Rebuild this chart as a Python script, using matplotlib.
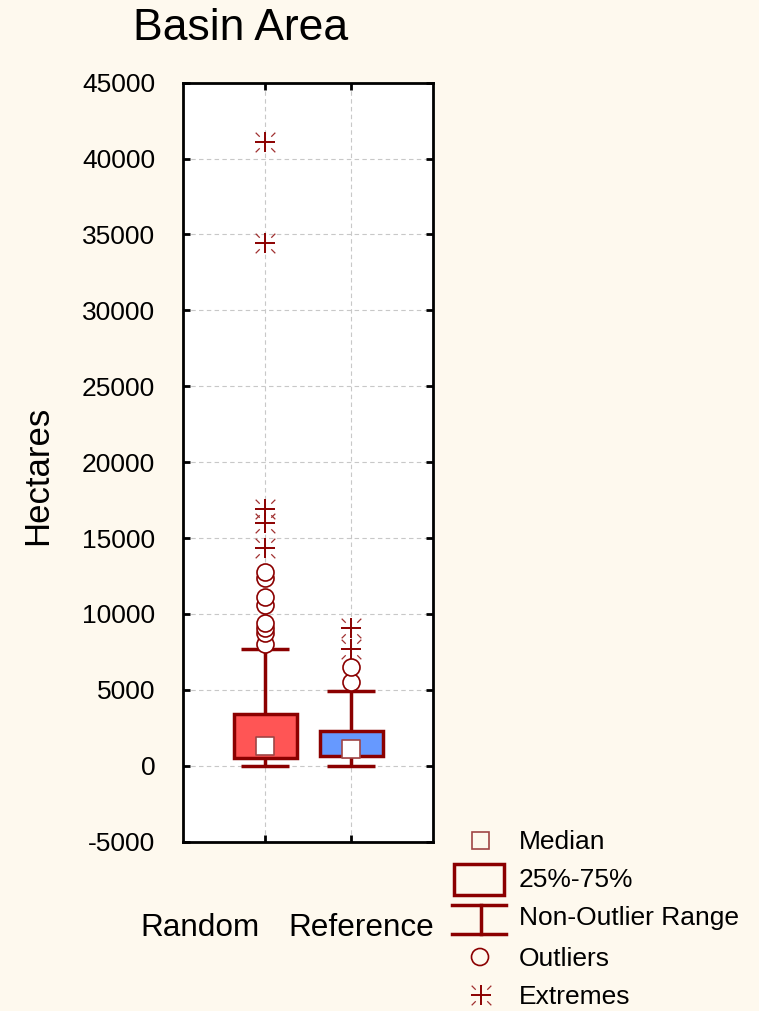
import numpy as np
import matplotlib
matplotlib.use("Agg")
import matplotlib.pyplot as plt
from matplotlib.path import Path
from matplotlib.patches import Rectangle
from matplotlib.lines import Line2D

plt.rcParams['font.family'] = ['Liberation Sans', 'DejaVu Sans']

# box plot summary per group (hectares)
groups = ["Random", "Reference"]
medians = [1300, 1120]
q1 = [490, 640]
q3 = [3390, 2310]
whisker_lo = [0, 0]
whisker_hi = [7670, 4920]
outliers = [
    [8020, 8720, 9050, 9380, 10590, 11130, 12340, 12780],
    [5530, 6480],
]
extremes = [
    [14320, 15970, 16910, 34430, 41090],
    [7670, 9050],
]
box_colors = ["#ff5555", "#6699ff"]
yticks = np.arange(-5000, 45001, 5000)

dark = "#8b0000"
bg = "#fef9ee"


def segs_path(segs):
    verts, codes = [], []
    for a, b in segs:
        verts += [a, b]
        codes += [Path.MOVETO, Path.LINETO]
    return Path(verts, codes)


# extremes marker = plus + short diagonal ticks at the corners
plus_marker = segs_path([((-1, 0), (1, 0)), ((0, -1), (0, 1))])
diag_marker = segs_path([((0.5, 0.5), (0.85, 0.85)), ((-0.5, 0.5), (-0.85, 0.85)),
                         ((0.5, -0.5), (0.85, -0.85)), ((-0.5, -0.5), (-0.85, -0.85))])


def draw_extremes(axis, xs, ys):
    axis.scatter(xs, ys, marker=plus_marker, s=200, color=dark, linewidth=1.4, zorder=5)
    axis.scatter(xs, ys, marker=diag_marker, s=200, color="#a03030", linewidth=0.9, zorder=5)


fig = plt.figure(figsize=(7.59, 10.11), dpi=100, facecolor=bg)
ax = fig.add_axes([0.2411, 0.1675, 0.3298, 0.7507])
ax.set_facecolor("white")

x = np.arange(1, len(groups) + 1)
box_w = 0.733
cap_w = 0.558

ax.set_xlim(0.046, 2.953)
ax.set_ylim(-5000, 45000)
ax.set_yticks(yticks)
ax.set_yticklabels([str(v) for v in yticks], fontsize=19)
ax.set_xticks(x)
ax.set_xticklabels([])
ax.tick_params(axis="both", direction="in", length=5, width=2,
               left=True, right=True, top=True, bottom=True, pad=20)
ax.grid(True, color="#c8c8c8", linestyle=(0, (4, 3)), linewidth=0.8)
ax.set_axisbelow(True)
for sp in ax.spines.values():
    sp.set_linewidth(2)
ax.set_ylabel("Hectares", fontsize=25, va="center")
ax.yaxis.set_label_coords(-0.58, 0.483)

for i, xi in enumerate(x):
    # whiskers and caps
    ax.vlines(xi, whisker_lo[i], q1[i], color=dark, lw=2.5, zorder=3)
    ax.vlines(xi, q3[i], whisker_hi[i], color=dark, lw=2.5, zorder=3)
    ax.hlines([whisker_lo[i], whisker_hi[i]], xi - cap_w / 2, xi + cap_w / 2,
              color=dark, lw=2.5, zorder=3)
    # interquartile box
    ax.bar(xi, q3[i] - q1[i], bottom=q1[i], width=box_w, color=box_colors[i],
           edgecolor=dark, linewidth=2.5, zorder=4)
    ax.scatter([xi], [medians[i]], marker="s", s=150, facecolor="white",
               edgecolor="#a04545", linewidth=1.2, zorder=5)
    ax.scatter(np.full(len(outliers[i]), xi), outliers[i], marker="o", s=150,
               facecolor="white", edgecolor=dark, linewidth=1.2, zorder=5)
    draw_extremes(ax, np.full(len(extremes[i]), xi), extremes[i])

fig.text(0.3175, 1 - 29 / 1011, "Basin Area", fontsize=32, ha="center", va="center")
fig.text(200 / 759, 1 - 928 / 1011, groups[0], fontsize=22.7, ha="center", va="center")
fig.text(361 / 759, 1 - 928 / 1011, groups[1], fontsize=22.7, ha="center", va="center")

# legend drawn in pixel coordinates
lg = fig.add_axes([0, 0, 1, 1], facecolor="none")
lg.set_xlim(0, 759)
lg.set_ylim(1011, 0)
lg.axis("off")
lg.add_patch(Rectangle((472, 832), 17, 17, facecolor="none", edgecolor="#a04545", lw=1.2))
lg.add_patch(Rectangle((454, 864), 50, 31, facecolor="none", edgecolor=dark, lw=2.5))
lg.add_line(Line2D([452, 506], [905, 905], color=dark, lw=2.5))
lg.add_line(Line2D([452, 506], [934, 934], color=dark, lw=2.5))
lg.add_line(Line2D([481, 481], [905, 934], color=dark, lw=2.5))
lg.scatter([480], [957], marker="o", s=150, facecolor="none", edgecolor=dark, linewidth=1.2)
draw_extremes(lg, [481], [995])
labels = ["Median", "25%-75%", "Non-Outlier Range", "Outliers", "Extremes"]
ys = [842, 880, 918, 959, 997]
for lab, yy in zip(labels, ys):
    lg.text(519, yy, lab, fontsize=19, ha="left", va="center")

fig.savefig("out.png", dpi=100, facecolor=bg)
